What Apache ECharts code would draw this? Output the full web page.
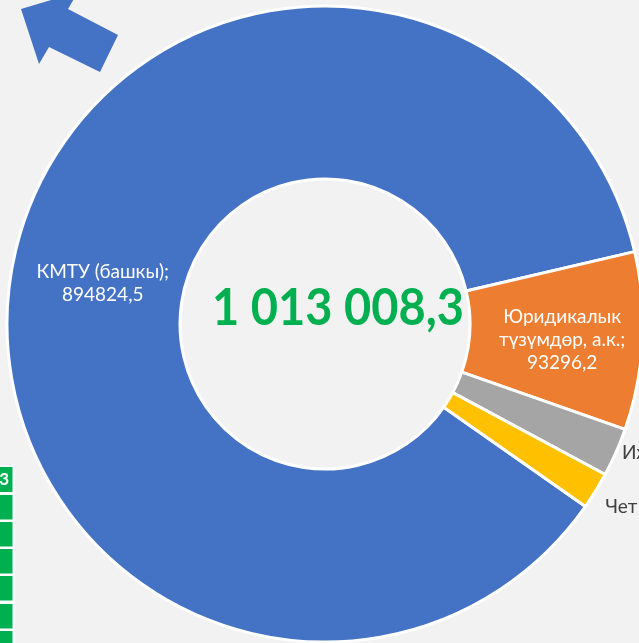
<!DOCTYPE html>
<html>
<head>
<meta charset="utf-8">
<script src="https://cdn.jsdelivr.net/npm/echarts@6/dist/echarts.min.js"></script>
<style>
html,body{margin:0;padding:0;background:#f2f2f2;}
#chart{width:639px;height:643px;}
</style>
</head>
<body>
<div id="chart"></div>
<script>
// Data
const categories = ['КМТУ (башкы)', 'Юридикалык түзүмдөр, а.к.', 'Ижарачылар', 'Чет өлкөлүк'];
const values = [894824.5, 93296.2, 25500, 19400];
const colors = ['#4472c4', '#ed7d31', '#a5a5a5', '#ffc000'];
const labelNames = ['КМТУ (башкы);', 'Юридикалык\nтүзүмдөр, а.к.;', 'Ижарачылар;', 'Чет өлкөлүк;'];
const totalLabel = '1 013 008,3';

function fmt(v) { return String(v).replace('.', ','); }

const chart = echarts.init(document.getElementById('chart'), null, {renderer: 'canvas'});

const pieData = categories.map((c, i) => {
  const inside = i < 2;
  return {
    name: c,
    value: values[i],
    itemStyle: {color: colors[i]},
    label: inside ? {
      position: 'inside',
      color: '#ffffff',
      formatter: labelNames[i] + '\n' + fmt(values[i])
    } : {
      position: 'outside',
      color: '#404040',
      overflow: 'none',
      formatter: labelNames[i] + ' ' + fmt(values[i])
    },
    labelLine: {show: false, length: i === 2 ? 1 : 15, length2: 0}
  };
});

chart.setOption({
  backgroundColor: '#f2f2f2',
  animation: false,
  series: [{
    type: 'pie',
    center: [325, 324],
    radius: [145, 318],
    startAngle: 325,
    clockwise: true,
    avoidLabelOverlap: false,
    itemStyle: {borderColor: '#ffffff', borderWidth: 3},
    label: {
      show: true,
      fontFamily: 'Lato, "Noto Sans", sans-serif',
      fontSize: 19,
      lineHeight: 23,
      align: 'center'
    },
    labelLayout: function (p) {
      if (p.dataIndex === 0) return {dx: 8, dy: 4};
      if (p.dataIndex === 1) return {dx: 3, dy: 3};
      if (p.dataIndex === 3) return {dy: 8, dx: -8};
      return {};
    },
    emphasis: {disabled: true},
    data: pieData
  }],
  graphic: [
    {
      type: 'polygon',
      shape: {points: [[21, 9], [78, -8], [68, 9], [118, 35], [100, 72], [49, 47], [39, 64]]},
      style: {fill: '#4472c4'}
    },
    {type: 'rect', shape: {x: 0, y: 465, width: 15, height: 180}, style: {fill: '#ffffff'}},
    {type: 'rect', shape: {x: 0, y: 467, width: 12.5, height: 25}, style: {fill: '#00b050'}},
    {type: 'rect', shape: {x: 0, y: 495, width: 12.5, height: 24.5}, style: {fill: '#00b050'}},
    {type: 'rect', shape: {x: 0, y: 522, width: 12.5, height: 24.5}, style: {fill: '#00b050'}},
    {type: 'rect', shape: {x: 0, y: 549, width: 12.5, height: 24.5}, style: {fill: '#00b050'}},
    {type: 'rect', shape: {x: 0, y: 576, width: 12.5, height: 24.5}, style: {fill: '#00b050'}},
    {type: 'rect', shape: {x: 0, y: 604, width: 12.5, height: 24.5}, style: {fill: '#00b050'}},
    {type: 'rect', shape: {x: 0, y: 631, width: 12.5, height: 14}, style: {fill: '#00b050'}},
    {type: 'text', x: 9, y: 480, style: {text: '3', fill: '#ffffff', font: 'bold 17px Lato, sans-serif', align: 'right', verticalAlign: 'middle'}},
    {
      type: 'text', x: 338, y: 336, scaleY: 1.08, originY: 336,
      style: {
        text: totalLabel, fill: '#00b050',
        font: 'bold 47px Lato, "Noto Sans", sans-serif',
        align: 'center', verticalAlign: 'middle'
      }
    }
  ]
});
</script>
</body>
</html>
